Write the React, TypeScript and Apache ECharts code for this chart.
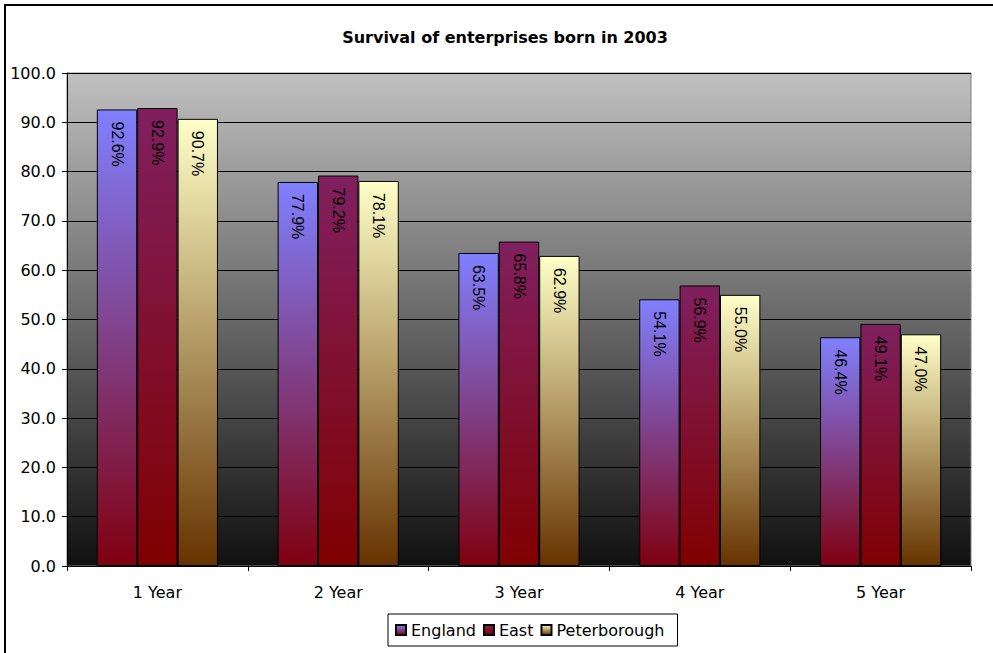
import React, { useEffect, useRef } from "react";
import * as echarts from "echarts";

const categories = ["1 Year", "2 Year", "3 Year", "4 Year", "5 Year"];
const england = [92.6, 77.9, 63.5, 54.1, 46.4];
const east = [92.9, 79.2, 65.8, 56.9, 49.1];
const peterborough = [90.7, 78.1, 62.9, 55.0, 47.0];
const seriesNames = ["England", "East", "Peterborough"];
const titleText = "Survival of enterprises born in 2003";

const grad = (top: string, bottom: string) =>
  new echarts.graphic.LinearGradient(0, 0, 0, 1, [
    { offset: 0, color: top },
    { offset: 1, color: bottom },
  ]);

export default function App() {
  const ref = useRef<HTMLDivElement>(null);
  useEffect(() => {
    document.body.style.margin = "0";
    const chart = echarts.init(ref.current!, null, { renderer: "svg" });
    const font = "'DejaVu Sans', Arial, sans-serif";
    const labelFont = "'Liberation Sans', Arial, sans-serif";
    const label = {
      show: true,
      position: "insideTop" as const,
      distance: 12,
      rotate: -90,
      align: "left" as const,
      verticalAlign: "middle" as const,
      fontSize: 16,
      fontFamily: labelFont,
      color: "#000",
      formatter: (p: any) => p.value.toFixed(1) + "%",
    };
    const mk = (name: string, data: number[], top: string, bottom: string) => ({
      name,
      type: "bar",
      data,
      barGap: "0%",
      barCategoryGap: "33%",
      itemStyle: { color: grad(top, bottom), borderColor: "#000", borderWidth: 1 },
      label,
    });
    chart.setOption({
      animation: false,
      backgroundColor: "#fff",
      textStyle: { fontFamily: font },
      title: {
        text: titleText,
        left: 500,
        textAlign: "center",
        top: 24,
        textStyle: { fontSize: 16, fontWeight: "bold", color: "#000", fontFamily: font },
      },
      graphic: [
        {
          type: "rect",
          shape: { x: 5, y: 5, width: 1000, height: 700 },
          style: { fill: "none", stroke: "#000", lineWidth: 2 },
          silent: true,
          z: 100,
        },
      ],
      legend: {
        data: seriesNames,
        left: 388,
        top: 614,
        orient: "horizontal",
        borderColor: "#000",
        borderWidth: 1,
        padding: [8, 13, 8, 7],
        itemWidth: 10,
        itemHeight: 10,
        itemGap: 7,
        icon: "rect",
        textStyle: { fontSize: 16, color: "#000", fontFamily: font },
      },
      grid: {
        left: 67,
        right: 22,
        top: 73,
        bottom: 87,
        show: true,
        backgroundColor: grad("#c0c0c0", "#101010"),
        borderColor: "#808080",
        borderWidth: 1,
      },
      xAxis: {
        type: "category",
        data: categories,
        axisLine: { lineStyle: { color: "#000", width: 1 } },
        axisTick: { show: true, length: 5, lineStyle: { color: "#000" } },
        axisLabel: { fontSize: 16, color: "#000", margin: 18, fontFamily: font },
      },
      yAxis: {
        type: "value",
        min: 0,
        max: 100,
        interval: 10,
        axisLine: { show: true, lineStyle: { color: "#000", width: 1 } },
        axisTick: { show: true, length: 5, lineStyle: { color: "#000" } },
        axisLabel: {
          fontSize: 16,
          color: "#000",
          margin: 11,
          fontFamily: font,
          formatter: (v: number) => v.toFixed(1),
        },
        splitLine: { show: true, lineStyle: { color: "#000", width: 1 } },
      },
      series: [
        mk("England", england, "#8080ff", "#800010"),
        mk("East", east, "#802060", "#800000"),
        mk("Peterborough", peterborough, "#ffffc8", "#663300"),
      ],
    });
    return () => chart.dispose();
  }, []);
  return (
    <div
      ref={ref}
      style={{ position: "absolute", left: 0, top: 0, width: 993, height: 653 }}
    />
  );
}
